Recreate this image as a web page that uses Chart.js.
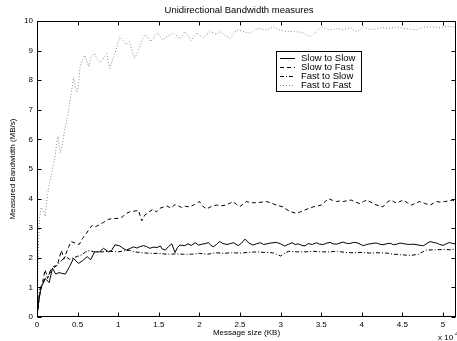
<!DOCTYPE html>
<html lang="en">
<head>
<meta charset="UTF-8" />
<title>Unidirectional Bandwidth measures</title>
<script src="https://cdn.jsdelivr.net/npm/chart.js"></script>
<style>
  body { margin: 0; background: #fff; }
  canvas { display: block; }
</style>
</head>
<body>
<canvas id="bw" width="457" height="341"></canvas>
<script>
  // message size in units of 10^4 KB, bandwidth in MB/s as [x, y]
  const slowToSlow = [
    [0,0],[0.02,0.5],[0.05,1.02],[0.08,1.15],[0.1,1.3],[0.12,1.25],[0.15,1.16],[0.19,1.65],[0.23,1.45],[0.27,1.5],
    [0.3,1.48],[0.35,1.45],[0.4,1.7],[0.45,1.98],[0.51,1.81],[0.56,1.9],[0.62,2.04],[0.66,1.93],[0.71,2.2],[0.77,2.2],
    [0.82,2.32],[0.88,2.2],[0.92,2.25],[0.96,2.44],[1.02,2.4],[1.06,2.32],[1.1,2.26],[1.15,2.32],[1.19,2.37],[1.23,2.33],
    [1.27,2.38],[1.31,2.41],[1.35,2.38],[1.39,2.32],[1.43,2.36],[1.48,2.35],[1.52,2.4],[1.54,2.3],[1.58,2.26],[1.62,2.38],
    [1.66,2.47],[1.7,2.18],[1.73,2.35],[1.76,2.43],[1.79,2.42],[1.82,2.41],[1.86,2.47],[1.9,2.42],[1.95,2.51],[1.99,2.43],
    [2.03,2.46],[2.07,2.48],[2.11,2.51],[2.14,2.43],[2.17,2.37],[2.21,2.45],[2.25,2.55],[2.29,2.48],[2.34,2.45],[2.38,2.48],
    [2.42,2.51],[2.48,2.41],[2.52,2.5],[2.56,2.63],[2.61,2.5],[2.66,2.43],[2.7,2.47],[2.75,2.51],[2.79,2.45],[2.83,2.47],
    [2.88,2.5],[2.95,2.52],[3.0,2.47],[3.05,2.4],[3.1,2.46],[3.14,2.51],[3.18,2.45],[3.22,2.47],[3.26,2.42],[3.3,2.4],
    [3.34,2.48],[3.39,2.45],[3.44,2.51],[3.48,2.46],[3.53,2.45],[3.57,2.5],[3.61,2.52],[3.65,2.47],[3.69,2.46],[3.73,2.5],
    [3.77,2.53],[3.81,2.49],[3.85,2.48],[3.9,2.52],[3.94,2.51],[3.98,2.46],[4.02,2.41],[4.06,2.45],[4.1,2.47],[4.14,2.49],
    [4.18,2.5],[4.22,2.46],[4.26,2.44],[4.3,2.47],[4.35,2.49],[4.39,2.44],[4.43,2.46],[4.47,2.5],[4.51,2.48],[4.55,2.46],
    [4.59,2.45],[4.63,2.46],[4.68,2.44],[4.72,2.42],[4.76,2.41],[4.8,2.48],[4.84,2.55],[4.88,2.52],[4.92,2.5],[4.96,2.45],
    [5.0,2.42],[5.04,2.47],[5.08,2.52],[5.12,2.48],[5.16,2.47]
  ];
  const slowToFast = [
    [0,0],[0.03,0.7],[0.06,1.05],[0.1,1.6],[0.13,1.3],[0.17,1.6],[0.2,1.7],[0.25,1.75],[0.3,2.25],[0.33,1.95],
    [0.38,2.3],[0.42,2.55],[0.47,2.5],[0.52,2.45],[0.56,2.65],[0.6,2.8],[0.64,2.95],[0.68,3.1],[0.72,3.05],[0.77,3.12],
    [0.82,3.2],[0.88,3.3],[0.94,3.33],[1.0,3.33],[1.05,3.38],[1.1,3.5],[1.15,3.56],[1.2,3.58],[1.25,3.6],[1.29,3.25],
    [1.33,3.45],[1.38,3.55],[1.43,3.64],[1.47,3.55],[1.51,3.67],[1.56,3.72],[1.6,3.75],[1.65,3.68],[1.7,3.8],[1.75,3.74],
    [1.78,3.7],[1.83,3.74],[1.88,3.72],[1.94,3.8],[2.0,3.9],[2.05,3.72],[2.09,3.65],[2.15,3.74],[2.21,3.78],[2.27,3.76],
    [2.33,3.78],[2.38,3.85],[2.41,3.9],[2.46,3.8],[2.5,3.73],[2.54,3.82],[2.58,3.9],[2.64,3.86],[2.7,3.86],[2.77,3.88],
    [2.83,3.9],[2.89,3.84],[2.95,3.78],[3.03,3.72],[3.08,3.62],[3.12,3.56],[3.2,3.5],[3.24,3.55],[3.28,3.6],[3.34,3.66],
    [3.4,3.72],[3.45,3.75],[3.5,3.78],[3.55,3.9],[3.59,4.0],[3.64,3.94],[3.69,3.9],[3.73,3.92],[3.77,3.9],[3.82,3.93],
    [3.87,3.95],[3.92,3.88],[3.98,3.83],[4.02,3.9],[4.06,3.95],[4.11,3.88],[4.16,3.8],[4.21,3.76],[4.26,3.72],[4.3,3.85],
    [4.35,3.95],[4.39,3.9],[4.43,3.84],[4.47,3.9],[4.51,3.95],[4.56,3.86],[4.61,3.78],[4.66,3.84],[4.71,3.9],[4.77,3.84],
    [4.84,3.78],[4.88,3.84],[4.92,3.9],[4.97,3.88],[5.02,3.9],[5.07,3.92],[5.12,3.95],[5.16,3.88]
  ];
  const fastToSlow = [
    [0,0],[0.03,0.9],[0.06,1.1],[0.1,1.3],[0.15,1.45],[0.2,1.65],[0.25,1.75],[0.3,1.9],[0.35,2.05],[0.4,1.95],
    [0.45,2.0],[0.5,2.05],[0.55,2.1],[0.6,2.2],[0.65,2.25],[0.7,2.2],[0.8,2.2],[0.9,2.22],[1.0,2.2],[1.1,2.25],
    [1.15,2.25],[1.2,2.2],[1.3,2.17],[1.4,2.15],[1.5,2.15],[1.6,2.12],[1.7,2.13],[1.8,2.12],[1.9,2.12],[2.0,2.15],
    [2.1,2.12],[2.2,2.17],[2.3,2.15],[2.4,2.17],[2.5,2.16],[2.6,2.18],[2.7,2.2],[2.8,2.18],[2.9,2.17],[2.95,2.12],
    [3.0,2.06],[3.05,2.15],[3.1,2.22],[3.2,2.2],[3.3,2.2],[3.4,2.22],[3.5,2.2],[3.6,2.2],[3.7,2.22],[3.8,2.18],
    [3.9,2.17],[4.0,2.18],[4.1,2.16],[4.2,2.17],[4.3,2.16],[4.4,2.12],[4.5,2.1],[4.6,2.08],[4.7,2.12],[4.75,2.2],
    [4.8,2.26],[4.9,2.27],[5.0,2.28],[5.1,2.27],[5.16,2.3]
  ];
  const fastToFast = [
    [0,0],[0.01,1.5],[0.02,2.6],[0.03,3.3],[0.05,3.7],[0.08,3.6],[0.1,3.4],[0.12,3.9],[0.14,4.3],[0.16,4.6],
    [0.19,5.0],[0.22,5.4],[0.24,5.8],[0.26,6.1],[0.28,5.7],[0.29,5.55],[0.31,5.8],[0.34,6.3],[0.37,6.7],[0.39,7.0],
    [0.41,7.4],[0.43,7.7],[0.45,8.1],[0.47,7.8],[0.49,7.6],[0.51,7.8],[0.53,8.45],[0.56,8.7],[0.59,8.85],[0.62,8.6],
    [0.64,8.45],[0.66,8.75],[0.69,8.85],[0.71,8.9],[0.74,8.7],[0.78,8.6],[0.82,8.75],[0.86,8.9],[0.88,8.6],[0.9,8.4],
    [0.93,8.7],[0.96,8.9],[0.99,9.2],[1.02,9.47],[1.06,9.35],[1.1,9.2],[1.14,9.3],[1.17,9.0],[1.2,8.74],[1.24,8.95],
    [1.27,9.15],[1.3,9.4],[1.33,9.53],[1.37,9.45],[1.4,9.3],[1.43,9.4],[1.46,9.55],[1.49,9.6],[1.52,9.45],[1.55,9.35],
    [1.58,9.45],[1.62,9.5],[1.65,9.55],[1.68,9.6],[1.72,9.5],[1.76,9.4],[1.79,9.5],[1.82,9.64],[1.86,9.5],[1.9,9.34],
    [1.94,9.5],[1.97,9.6],[2.01,9.52],[2.05,9.43],[2.09,9.55],[2.13,9.64],[2.17,9.6],[2.21,9.55],[2.24,9.6],[2.27,9.64],
    [2.32,9.5],[2.38,9.41],[2.42,9.55],[2.46,9.7],[2.5,9.68],[2.54,9.64],[2.59,9.6],[2.64,9.6],[2.68,9.7],[2.73,9.75],
    [2.78,9.72],[2.83,9.7],[2.87,9.75],[2.91,9.8],[2.95,9.75],[2.99,9.7],[3.04,9.67],[3.08,9.64],[3.12,9.65],[3.16,9.64],
    [3.21,9.63],[3.26,9.62],[3.31,9.55],[3.36,9.47],[3.4,9.55],[3.44,9.64],[3.47,9.72],[3.5,9.8],[3.55,9.75],[3.61,9.7],
    [3.65,9.72],[3.69,9.75],[3.73,9.72],[3.77,9.7],[3.82,9.75],[3.86,9.78],[3.9,9.7],[3.94,9.64],[3.98,9.72],[4.02,9.8],
    [4.06,9.75],[4.1,9.7],[4.14,9.72],[4.18,9.73],[4.22,9.76],[4.26,9.78],[4.3,9.76],[4.35,9.75],[4.39,9.78],[4.43,9.8],
    [4.47,9.78],[4.51,9.75],[4.55,9.74],[4.59,9.73],[4.63,9.71],[4.68,9.7],[4.72,9.75],[4.76,9.8],[4.82,9.8],[4.88,9.8],
    [4.92,9.79],[4.97,9.78],[5.01,9.81],[5.05,9.83],[5.1,9.8],[5.16,9.8]
  ];

  const seriesNames = ["Slow to Slow", "Slow to Fast", "Fast to Slow", "Fast to Fast"];
  const seriesData = [slowToSlow, slowToFast, fastToSlow, fastToFast];
  const lineColors = ["#000", "#000", "#000", "#8a8a8a"];
  const lineDashes = [[], [4, 3], [4, 2, 1, 2], [1, 2]];

  const FONT = "'Liberation Sans', Arial, sans-serif";

  // MATLAB style box with inward ticks on all four sides
  const framePlugin = {
    id: "frame",
    afterDatasetsDraw(chart) {
      const { ctx, chartArea: a, scales } = chart;
      const L = Math.round(a.left) + 0.5, R = Math.round(a.right) - 0.5;
      const T = Math.round(a.top) + 0.5, B = Math.round(a.bottom) - 0.5;
      ctx.save();
      ctx.strokeStyle = "#000";
      ctx.lineWidth = 1;
      ctx.setLineDash([]);
      ctx.strokeRect(L, T, R - L, B - T);
      ctx.beginPath();
      scales.x.ticks.forEach(t => {
        const px = Math.round(scales.x.getPixelForValue(t.value)) + 0.5;
        ctx.moveTo(px, B); ctx.lineTo(px, B - 4);
        ctx.moveTo(px, T); ctx.lineTo(px, T + 4);
      });
      scales.y.ticks.forEach(t => {
        const py = Math.round(scales.y.getPixelForValue(t.value)) + 0.5;
        ctx.moveTo(L, py); ctx.lineTo(L + 4, py);
        ctx.moveTo(R, py); ctx.lineTo(R - 4, py);
      });
      ctx.stroke();
      ctx.restore();
    },
    afterDraw(chart) {
      const { ctx } = chart;
      ctx.save();
      // title
      ctx.fillStyle = "#000";
      ctx.font = "9.5px " + FONT;
      ctx.textAlign = "center";
      ctx.textBaseline = "middle";
      ctx.fillText("Unidirectional Bandwidth measures", 239, 10);
      // exponent note under the x axis
      ctx.font = "8px " + FONT;
      ctx.textAlign = "left";
      ctx.fillText("x 10", 438, 338);
      ctx.font = "6px " + FONT;
      ctx.fillText("4", 455, 334);

      // legend box
      const bx = 276.5, by = 51.5, bw = 85, bh = 40;
      ctx.fillStyle = "#fff";
      ctx.fillRect(bx, by, bw, bh);
      ctx.strokeStyle = "#000";
      ctx.lineWidth = 1;
      ctx.strokeRect(bx, by, bw, bh);
      ctx.font = "9.5px " + FONT;
      ctx.textBaseline = "middle";
      seriesNames.forEach((name, i) => {
        const y = Math.round(by + 6 + i * 9) + 0.5;
        ctx.strokeStyle = lineColors[i];
        ctx.setLineDash(lineDashes[i]);
        ctx.beginPath();
        ctx.moveTo(280, y); ctx.lineTo(295, y);
        ctx.stroke();
        ctx.fillStyle = "#000";
        ctx.fillText(name, 301, y);
      });
      ctx.restore();
    }
  };

  new Chart(document.getElementById("bw"), {
    type: "line",
    data: {
      datasets: seriesNames.map((name, i) => ({
        label: name,
        data: seriesData[i].map(p => ({ x: p[0], y: p[1] })),
        borderColor: lineColors[i],
        borderDash: lineDashes[i],
        borderWidth: 1,
        pointRadius: 0,
        tension: 0,
        fill: false
      }))
    },
    options: {
      responsive: false,
      animation: false,
      layout: { padding: { top: 21, right: 1, left: 0, bottom: 0 } },
      plugins: {
        legend: { display: false },
        tooltip: { enabled: false },
        title: { display: false }
      },
      scales: {
        x: {
          type: "linear",
          min: 0,
          max: 5.16,
          afterFit(scale) { scale.height = 24; },
          grid: { display: false, drawTicks: false },
          border: { display: false },
          ticks: {
            stepSize: 0.5, includeBounds: false, maxRotation: 0, padding: 3, color: "#000",
            font: { family: FONT, size: 8 },
            callback: v => String(v)
          },
          title: { display: true, text: "Message size (KB)", color: "#000", font: { family: FONT, size: 8 }, padding: { top: 0, bottom: 3 } }
        },
        y: {
          min: 0,
          max: 10,
          afterFit(scale) { scale.width = 37; },
          grid: { display: false, drawTicks: false },
          border: { display: false },
          ticks: { stepSize: 1, padding: 4, color: "#000", font: { family: FONT, size: 8 } },
          title: { display: true, text: "Measured Bandwidth (MB/s)", color: "#000", font: { family: FONT, size: 8 }, padding: { top: 8, bottom: 0 } }
        }
      }
    },
    plugins: [framePlugin]
  });
</script>
</body>
</html>
